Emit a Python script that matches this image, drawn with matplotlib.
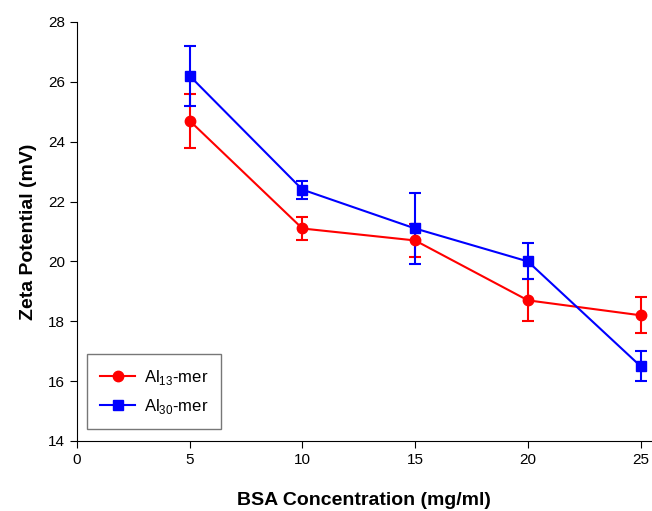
import numpy as np
import matplotlib.pyplot as plt

plt.rcParams['font.family'] = ['Liberation Sans', 'DejaVu Sans']
plt.rcParams['mathtext.fontset'] = 'custom'
plt.rcParams['mathtext.rm'] = 'Liberation Sans'

conc = [5, 10, 15, 20, 25]
al13 = [24.7, 21.1, 20.7, 18.7, 18.2]
al13_err = [0.9, 0.4, 0.55, 0.7, 0.6]
al30 = [26.2, 22.4, 21.1, 20.0, 16.5]
al30_err = [1.0, 0.3, 1.2, 0.6, 0.5]

fig = plt.figure(figsize=(6.52, 5.11), dpi=100)
ax = fig.add_axes([0.118, 0.137, 0.88, 0.82])

e1 = ax.errorbar(conc, al13, yerr=al13_err, color='#ff0000', marker='o', ms=7.5,
                 lw=1.5, capsize=4.5, capthick=1.5, elinewidth=1.5)
e2 = ax.errorbar(conc, al30, yerr=al30_err, color='#0000ff', marker='s', ms=7.5,
                 lw=1.5, capsize=4.5, capthick=1.5, elinewidth=1.5)

ax.set_xlim(0, 25.45)
ax.set_ylim(14, 28)
ax.set_xticks([0, 5, 10, 15, 20, 25])
ax.set_yticks(np.arange(14, 29, 2))
ax.spines['top'].set_visible(False)
ax.spines['right'].set_visible(False)
ax.tick_params(labelsize=11, direction='out', length=5)

ax.set_xlabel('BSA Concentration (mg/ml)', fontsize=14, fontweight='bold', labelpad=18)
ax.set_ylabel('Zeta Potential (mV)', fontsize=14, fontweight='bold', labelpad=8)

# legend shows only line + marker, no error bars
leg = ax.legend([e1[0], e2[0]], [r'Al$_{\mathrm{13}}$-mer', r'Al$_{\mathrm{30}}$-mer'],
                loc='lower left', fontsize=12, fancybox=False, edgecolor='#555555',
                bbox_to_anchor=(0.0, 0.005), handlelength=2.1, handletextpad=0.5,
                borderpad=0.8, borderaxespad=0.6, labelspacing=0.6)
leg.get_frame().set_linewidth(1.0)

plt.savefig('out.png', dpi=100)
